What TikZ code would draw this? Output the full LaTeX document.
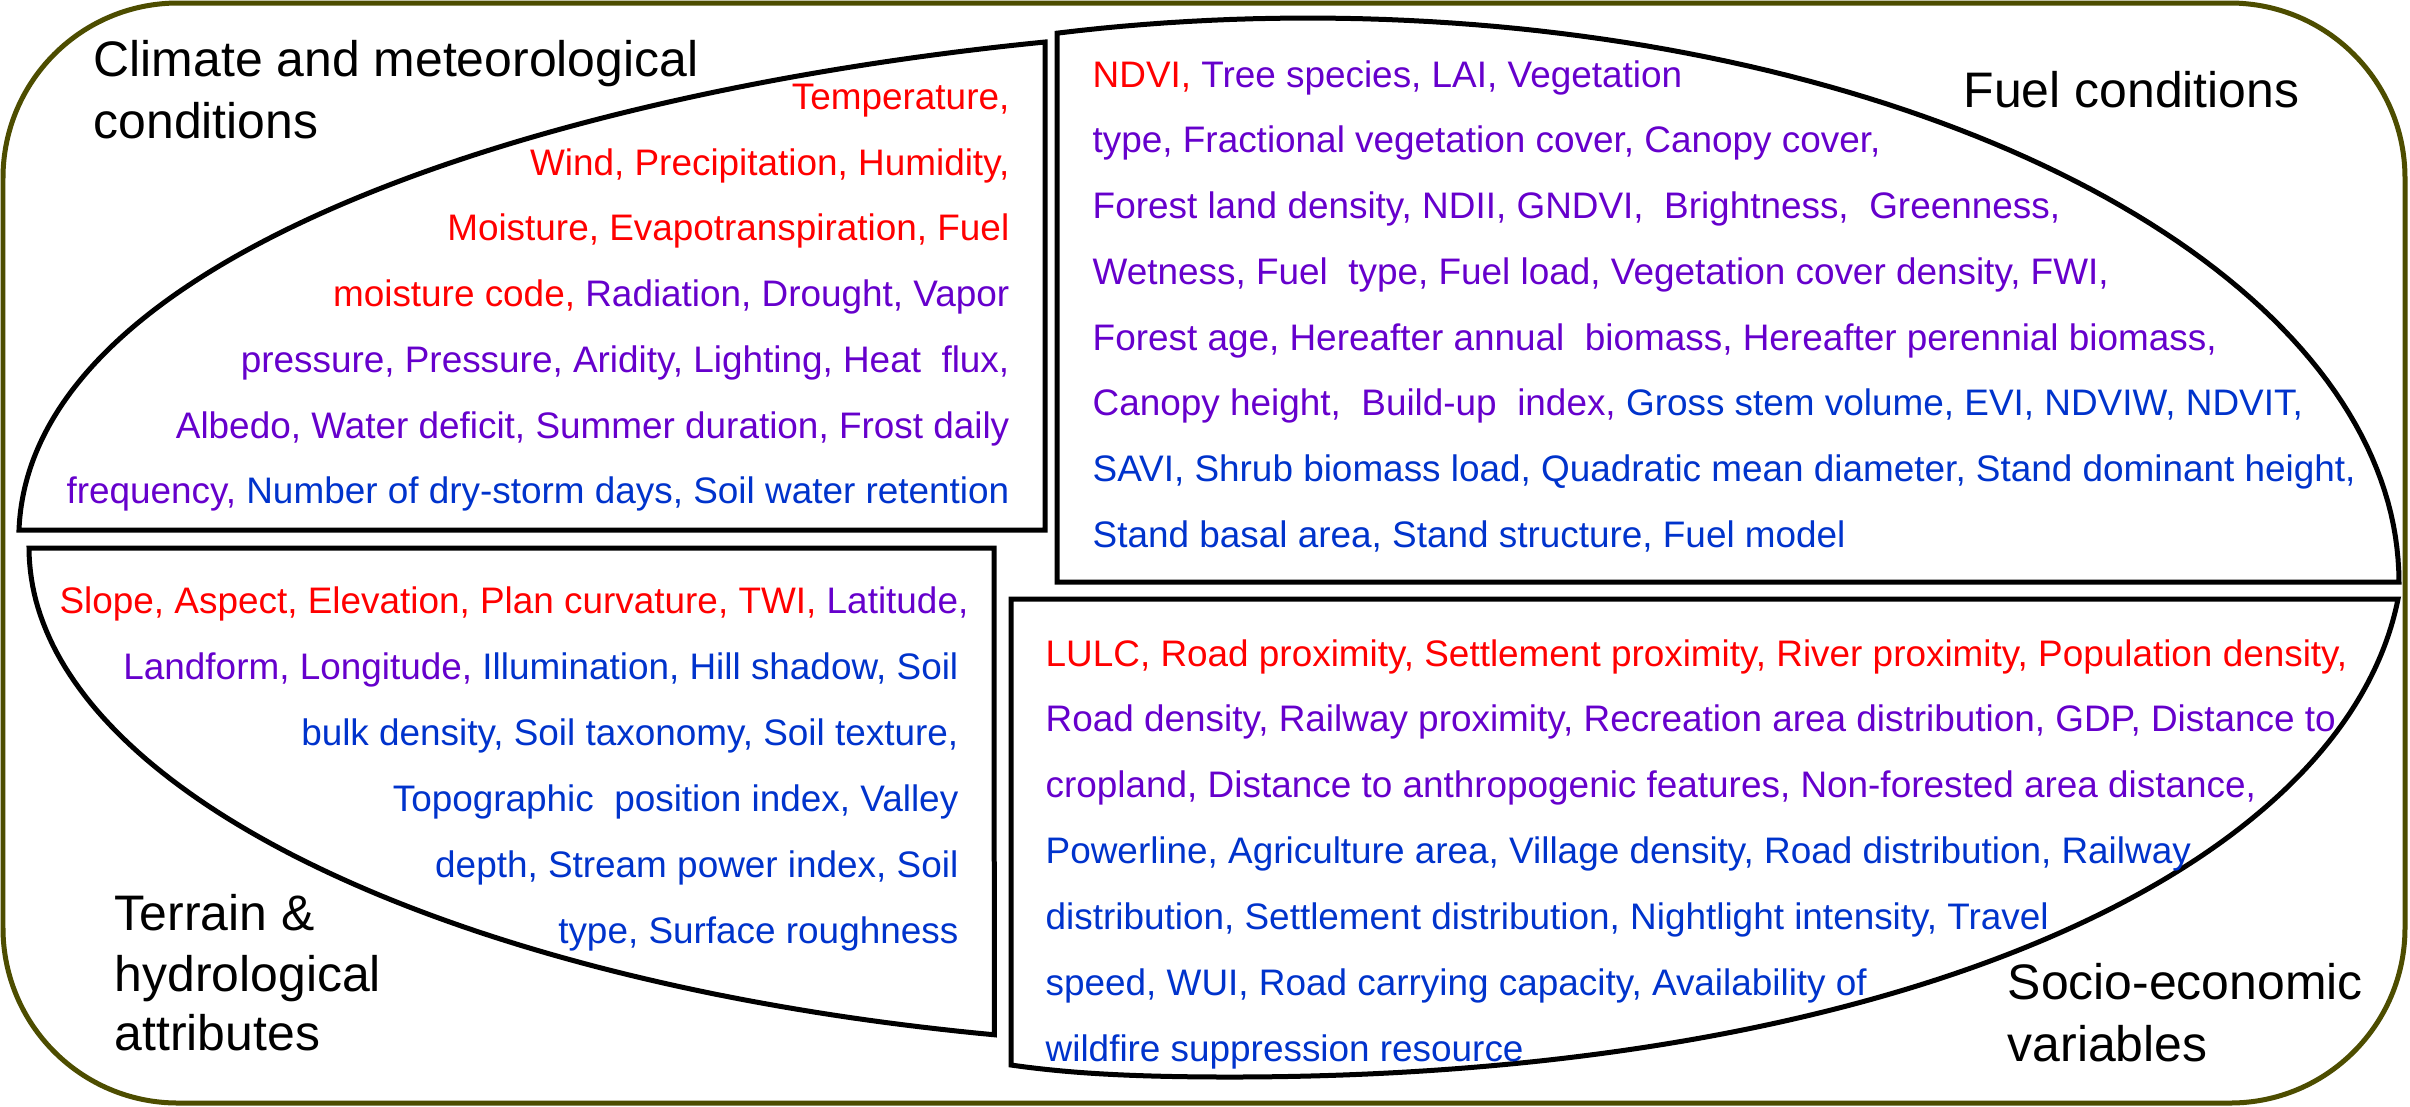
\documentclass[tikz,border=0pt]{standalone}
\usepackage{fontspec}
\setmainfont{Liberation Sans}
\definecolor{cred}{RGB}{255,0,0}
\definecolor{cpur}{RGB}{102,0,204}
\definecolor{cblu}{RGB}{0,51,204}
\definecolor{olivebd}{RGB}{77,77,0}
\newcommand\colR{\color{cred}}
\newcommand\colP{\color{cpur}}
\newcommand\colB{\color{cblu}}
\begin{document}
\begin{tikzpicture}[x=0.1mm,y=-0.1mm,
  region/.style={draw=black,line width=0.5mm,line join=miter},
  outerframe/.style={draw=olivebd,line width=0.5mm,rounded corners=17.5mm},
  item/.style={inner sep=0pt,font=\fontsize{10.5}{12}\selectfont},
  ttl/.style={inner sep=0pt,font=\fontsize{14.2}{17}\selectfont},
  rline/.style={item,anchor=base east},
  lline/.style={item,anchor=base west},
  tline/.style={ttl,anchor=base west}]
\useasboundingbox (0,0) rectangle (2410,1106);
\fill[white] (0,0) rectangle (2410,1106);
\draw[outerframe] (3,3) rectangle (2405,1103);

% Climate region
\draw[region] (19,530) .. controls (30,250) and (560,90) .. (1045,42) -- (1045,530) -- cycle;
% Fuel region
\draw[region] plot[domain=103.3:0,samples=90,variable=\t] ({1308+1091*cos(\t)},{582-564*sin(\t)}) -- (1057,582) -- cycle;
% Terrain region
\draw[region] plot[domain=103.2:180,samples=90,variable=\t] ({1280+1251*cos(\t)},{548+500*sin(\t)}) -- (994,548) -- cycle;
% Socio region
\draw[region] (1011,1065) -- (1011,599) -- (2398,599) .. controls (2344,869) and (1900,1077) .. (1230,1077) .. controls (1120,1077) and (1060,1072) .. (1011,1065) -- cycle;

% Climate texts
\node[tline] (ct1) at (93,76) {Climate and meteorological};
\node[tline] (ct2) at (93,138) {conditions};
\node[rline] (c1) at (1010,109) {\colR Temperature,};
\node[rline] (c2) at (1010,175) {\colR Wind, Precipitation, Humidity,};
\node[rline] (c3) at (1010,240) {\colR Moisture, Evapotranspiration, Fuel};
\node[rline] (c4) at (1010,306) {\colR moisture code, \colP Radiation, Drought, Vapor};
\node[rline] (c5) at (1010,372) {\colP pressure, Pressure, Aridity, Lighting, Heat\ \ flux,};
\node[rline] (c6) at (1010,438) {\colP Albedo, Water deficit, Summer duration, Frost daily};
\node[rline] (c7) at (1010,503) {\colP frequency, \colB Number of dry-storm days, Soil water retention};

% Fuel texts
\node[tline] (ft) at (1963,107) {Fuel conditions};
\node[lline] (f1) at (1092,87) {\colR NDVI, \colP Tree species, LAI, Vegetation};
\node[lline] (f2) at (1092,152) {\colP type, Fractional vegetation cover, Canopy cover,};
\node[lline] (f3) at (1092,218) {\colP Forest land density, NDII, GNDVI,\ \ Brightness,\ \ Greenness,};
\node[lline] (f4) at (1092,284) {\colP Wetness, Fuel\ \ type, Fuel load, Vegetation cover density, FWI,};
\node[lline] (f5) at (1092,350) {\colP Forest age, Hereafter annual\ \ biomass, Hereafter perennial biomass,};
\node[lline] (f6) at (1092,415) {\colP Canopy height,\ \ Build-up\ \ index, \colB Gross stem volume, EVI, NDVIW, NDVIT,};
\node[lline] (f7) at (1092,481) {\colB SAVI, Shrub biomass load, Quadratic mean diameter, Stand dominant height,};
\node[lline] (f8) at (1092,547) {\colB Stand basal area, Stand structure, Fuel model};

% Terrain texts
\node[tline] (tt1) at (114,930) {Terrain \&};
\node[tline] (tt2) at (114,991) {hydrological};
\node[tline] (tt3) at (114,1050) {attributes};
\node[rline] (t1) at (969,613) {\colR Slope, Aspect, Elevation, Plan curvature, TWI, \colP Latitude,};
\node[rline] (t2) at (959,679) {\colP Landform, Longitude, \colB Illumination, Hill shadow, Soil};
\node[rline] (t3) at (959,745) {\colB bulk density, Soil taxonomy, Soil texture,};
\node[rline] (t4) at (959,811) {\colB Topographic\ \ position index, Valley};
\node[rline] (t5) at (959,877) {\colB depth, Stream power index, Soil};
\node[rline] (t6) at (959,943) {\colB type, Surface roughness};

% Socio texts
\node[tline] (st1) at (2007,999) {Socio-economic};
\node[tline] (st2) at (2007,1061) {variables};
\node[lline] (s1) at (1045,666) {\colR LULC, Road proximity, Settlement proximity, River proximity, Population density,};
\node[lline] (s2) at (1045,731) {\colP Road density, Railway proximity, Recreation area distribution, GDP, Distance to};
\node[lline] (s3) at (1045,797) {\colP cropland, Distance to anthropogenic features, Non-forested area distance,};
\node[lline] (s4) at (1045,863) {\colB Powerline, Agriculture area, Village density, Road distribution, Railway};
\node[lline] (s5) at (1045,929) {\colB distribution, Settlement distribution, Nightlight intensity, Travel};
\node[lline] (s6) at (1045,995) {\colB speed, WUI, Road carrying capacity, Availability of};
\node[lline] (s7) at (1045,1061) {\colB wildfire suppression resource};
\end{tikzpicture}
\end{document}
